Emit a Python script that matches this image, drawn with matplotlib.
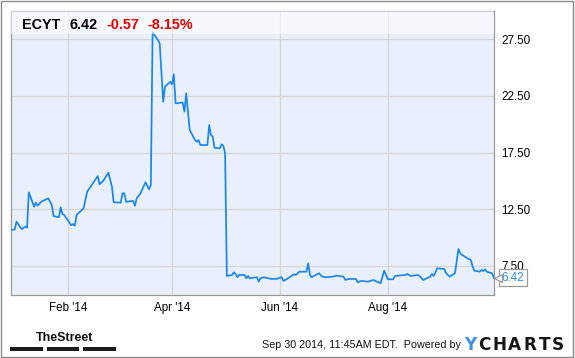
import pandas as pd
import matplotlib.pyplot as plt
from matplotlib.patches import Rectangle
import matplotlib.transforms as mtransforms

# ECYT daily close
dates = [
    "2013-12-31", "2014-01-02", "2014-01-03", "2014-01-06", "2014-01-08", "2014-01-09",
    "2014-01-10", "2014-01-13", "2014-01-14", "2014-01-15", "2014-01-17", "2014-01-21",
    "2014-01-23", "2014-01-24", "2014-01-27", "2014-01-28", "2014-01-29", "2014-01-30",
    "2014-02-03", "2014-02-04", "2014-02-05", "2014-02-06", "2014-02-10", "2014-02-11",
    "2014-02-12", "2014-02-18", "2014-02-19", "2014-02-21", "2014-02-24", "2014-02-26",
    "2014-02-27", "2014-03-03", "2014-03-04", "2014-03-05", "2014-03-06", "2014-03-10",
    "2014-03-11", "2014-03-12", "2014-03-14", "2014-03-17", "2014-03-19", "2014-03-20",
    "2014-03-21", "2014-03-24", "2014-03-25", "2014-03-27", "2014-03-28", "2014-03-31",
    "2014-04-01", "2014-04-02", "2014-04-03", "2014-04-04", "2014-04-07", "2014-04-08",
    "2014-04-09", "2014-04-11", "2014-04-14", "2014-04-15", "2014-04-16", "2014-04-17",
    "2014-04-21", "2014-04-22", "2014-04-23", "2014-04-24", "2014-04-25", "2014-04-28",
    "2014-04-29", "2014-04-30", "2014-05-01", "2014-05-02", "2014-05-05", "2014-05-06",
    "2014-05-07", "2014-05-08", "2014-05-09", "2014-05-12", "2014-05-13", "2014-05-14",
    "2014-05-15", "2014-05-19", "2014-05-20", "2014-05-21", "2014-05-23", "2014-05-27",
    "2014-05-30", "2014-06-02", "2014-06-03", "2014-06-05", "2014-06-09", "2014-06-10",
    "2014-06-12", "2014-06-16", "2014-06-17", "2014-06-18", "2014-06-19", "2014-06-23",
    "2014-06-25", "2014-06-27", "2014-07-01", "2014-07-03", "2014-07-07", "2014-07-08",
    "2014-07-10", "2014-07-14", "2014-07-15", "2014-07-17", "2014-07-21", "2014-07-22",
    "2014-07-24", "2014-07-25", "2014-07-28", "2014-07-30", "2014-08-01", "2014-08-04",
    "2014-08-05", "2014-08-11", "2014-08-12", "2014-08-14", "2014-08-18", "2014-08-19",
    "2014-08-21", "2014-08-25", "2014-08-26", "2014-08-27", "2014-08-29", "2014-09-02",
    "2014-09-03", "2014-09-05", "2014-09-08", "2014-09-10", "2014-09-11", "2014-09-12",
    "2014-09-16", "2014-09-17", "2014-09-18", "2014-09-19", "2014-09-22", "2014-09-23",
    "2014-09-24", "2014-09-25", "2014-09-26", "2014-09-29", "2014-09-30",
]
prices = [
    10.65, 10.70, 11.39, 10.74, 10.95, 10.86,
    13.98, 12.71, 13.07, 12.80, 13.15, 13.45,
    12.86, 11.89, 11.78, 12.66, 12.07, 11.98,
    11.07, 11.18, 11.03, 11.98, 12.57, 13.30,
    14.04, 15.42, 14.69, 14.98, 15.72, 14.48,
    13.10, 13.07, 13.90, 13.90, 13.15, 13.22,
    12.80, 13.45, 13.85, 14.87, 14.25, 14.63,
    28.12, 27.44, 27.15, 21.99, 23.31, 23.75,
    23.52, 24.41, 21.85, 21.85, 21.93, 21.10,
    22.73, 19.49, 18.60, 18.45, 18.60, 18.16,
    18.16, 19.93, 19.05, 18.90, 17.92, 17.87,
    18.22, 18.10, 17.43, 6.59, 6.68, 6.92,
    6.74, 6.48, 6.68, 6.68, 6.39, 6.59,
    6.39, 6.48, 6.09, 6.39, 6.48, 6.33,
    6.33, 6.48, 6.15, 6.33, 6.74, 6.68,
    6.97, 6.97, 7.71, 6.68, 6.48, 6.83,
    6.53, 6.48, 6.53, 6.62, 6.53, 6.24,
    6.33, 6.33, 6.03, 6.15, 6.09, 6.15,
    6.24, 6.15, 5.95, 7.06, 6.30, 6.30,
    6.59, 6.68, 6.77, 6.59, 6.68, 6.59,
    6.24, 6.53, 6.77, 6.59, 7.27, 7.21,
    6.83, 6.53, 6.83, 8.97, 8.59, 8.45,
    8.07, 8.00, 7.41, 7.06, 6.97, 7.12,
    7.03, 7.18, 6.97, 6.83, 6.42,
]

ticker = "ECYT"
last_price = "6.42"
change = "-0.57"
change_pct = "-8.15%"

xtick_dates = ["2014-02-01", "2014-04-01", "2014-06-01", "2014-08-01"]
xtick_labels = ["Feb '14", "Apr '14", "Jun '14", "Aug '14"]
ytick_values = [7.5, 12.5, 17.5, 22.5, 27.5]

stamp = "Sep 30 2014, 11:45AM EDT.  Powered by"

plt.rcParams["font.family"] = ["Liberation Sans", "DejaVu Sans"]

W, H = 575, 358


def px(x, y):
    # pixel coords (from top-left) -> figure fraction
    return x / W, 1 - y / H


x = pd.to_datetime(dates)

fig = plt.figure(figsize=(W / 100, H / 100), dpi=100)
fig.patch.set_facecolor("white")

left, top = px(10.7, 10.7)
right, bottom = px(494.3, 295)
ax = fig.add_axes([left, bottom, right - left, top - bottom])
ax.set_facecolor("#e9f0fb")

ax.plot(x, prices, color="#1a87e6", lw=1.25, zorder=3, solid_joinstyle="round")

ax.set_xlim(pd.Timestamp("2013-12-30 18:00"), pd.Timestamp("2014-09-30 06:00"))
ax.set_ylim(4.91, 30.03)

# header band (slightly covers the peak, like the original)
ax.axhspan(27.98, 30.03, color="white", alpha=0.55, lw=0, zorder=4)

ax.set_xticks(pd.to_datetime(xtick_dates))
ax.set_xticklabels(xtick_labels, fontsize=8.4)
ax.set_yticks(ytick_values)
ax.set_yticklabels([f"{v:.2f}" for v in ytick_values], fontsize=8.4)
ax.yaxis.tick_right()
ax.tick_params(axis="both", length=0, colors="black")
ax.tick_params(axis="x", pad=5)
ax.tick_params(axis="y", pad=5)
ax.grid(True, color="#d6d6d6", lw=0.9, zorder=1)
ax.set_axisbelow(True)
for s in ax.spines.values():
    s.set_color("#999999")
    s.set_linewidth(0.9)

# last value callout
ax.annotate(last_price, xy=(x[-1], prices[-1]), xytext=(5.5, 0), textcoords="offset points",
            ha="left", va="center", fontsize=8.4, color="#2f8fe0", zorder=6,
            annotation_clip=False,
            bbox=dict(boxstyle="square,pad=0.22", fc="white", ec="#999999", lw=0.9))
tip = mtransforms.offset_copy(ax.transData, fig=fig, x=3.0, y=0, units="points")
ax.plot([x[-1]], [prices[-1]], marker="<", ms=5.5, mfc="white", mec="#999999", mew=0.9,
        transform=tip, clip_on=False, zorder=7)

# header text
hx, hy = px(21.7, 29.3)
fig.text(hx, hy, ticker, fontsize=10.4, fontweight="bold", color="black", va="baseline")
fig.text(px(70, 0)[0], hy, last_price, fontsize=10.4, fontweight="bold", color="black", va="baseline")
fig.text(px(106.7, 0)[0], hy, change, fontsize=10.4, fontweight="bold", color="#e80000", va="baseline")
fig.text(px(147.7, 0)[0], hy, change_pct, fontsize=10.4, fontweight="bold", color="#e80000", va="baseline")

# footer
fig.text(*px(36, 341.3), "TheStreet", fontsize=9.0, fontweight="bold", color="#111111", va="baseline")
for x0, x1 in [(10, 42.7), (46.7, 79.3), (83.3, 116)]:
    bx, by = px(x0, 350.7)
    fig.add_artist(Rectangle((bx, by), (x1 - x0) / W, 3.4 / H, transform=fig.transFigure,
                             fc="#1a1a1a", ec="none"))
fig.text(*px(261.7, 348.3), stamp, fontsize=7.75, color="#111111", va="baseline")

# YCHARTS logo, letters spaced out like the original
logo_letters = ["Y", "C", "H", "A", "R", "T", "S"]
logo_x = [464.3, 477.7, 492.1, 508.3, 523.4, 538.4, 551.9]
for letter, lx in zip(logo_letters, logo_x):
    fig.text(*px(lx, 349.7), letter, fontsize=12.2, fontweight="bold",
             color="#3f8fe6" if letter == "Y" else "#161616",
             va="baseline", family="DejaVu Sans")

# outer frame
fx, fy = px(1, 357)
fig.add_artist(Rectangle((fx, fy), 572 / W, 356 / H, transform=fig.transFigure,
                         fc="none", ec="#8a8a8a", lw=1.0))

plt.savefig("out.png", dpi=100)
